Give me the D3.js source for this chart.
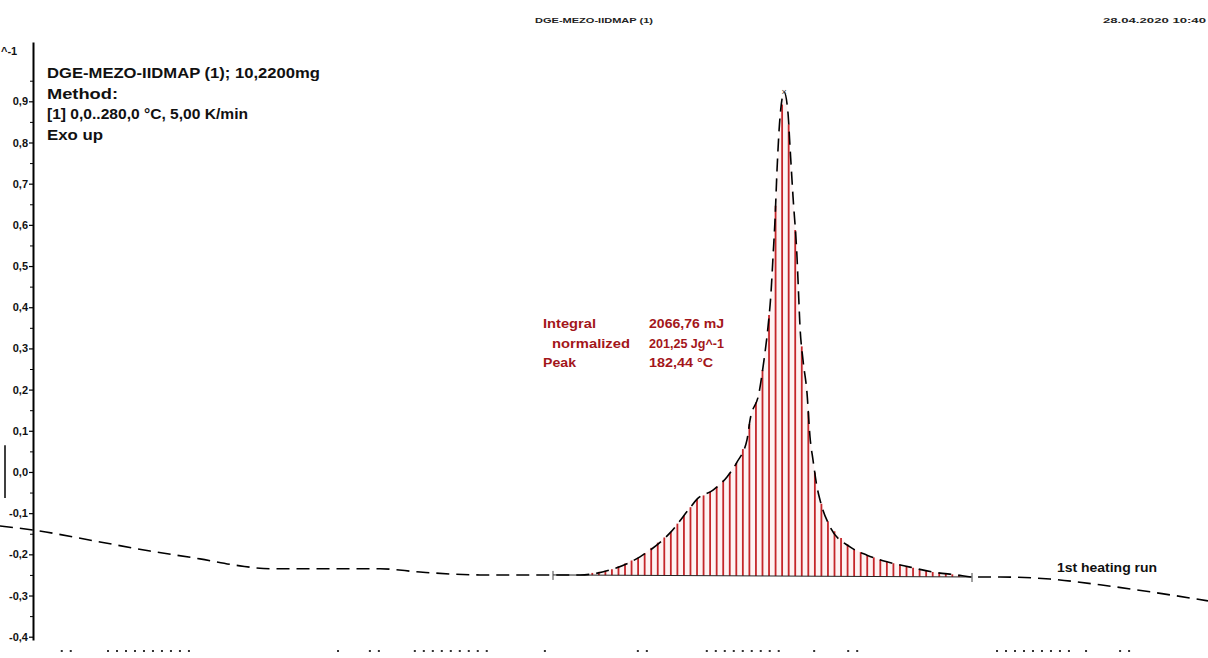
<!DOCTYPE html>
<html>
<head>
<meta charset="utf-8">
<script src="https://cdn.jsdelivr.net/npm/d3@7"></script>
<style>
  body { margin: 0; background: #fff; }
  svg { display: block; font-family: "Liberation Sans", Arial, sans-serif; font-weight: bold; }
</style>
</head>
<body>
<div class="chart"></div>
<script>
// DSC curve (temperature in °C, heat flow in W/g)
var temps = [2.75, 10.31, 25.66, 37.12, 48.58, 57.74, 64.62, 78.36, 89.82, 98.99,
  112.73, 129.46, 135.65, 142.52, 149.39, 156.27, 160.85, 162.46, 166.12, 169.33,
  171.62, 173.91, 174.6, 176.66, 177.81, 178.72, 179.41, 179.87, 180.33, 180.79,
  181.48, 182.44, 183.31, 183.77, 184.46, 185.37, 185.6, 186.06, 186.74, 187.66,
  188.35, 189.04, 189.95, 190.64, 192.93, 197.51, 201.41, 205.99, 211.26, 216.53,
  222.03, 225.47, 231.89, 243.34, 254.8, 266.25, 279.54];
var heatFlow = [-0.131, -0.141, -0.170, -0.192, -0.211, -0.228, -0.235, -0.235, -0.235, -0.243,
  -0.250, -0.250, -0.250, -0.238, -0.206, -0.148, -0.087, -0.066, -0.044, -0.012,
  0.024, 0.078, 0.126, 0.192, 0.272, 0.352, 0.435, 0.522, 0.612, 0.733,
  0.862, 0.922, 0.871, 0.789, 0.668, 0.522, 0.466, 0.352, 0.272, 0.192,
  0.085, 0.029, -0.036, -0.068, -0.133, -0.182, -0.202, -0.218, -0.231, -0.243,
  -0.250, -0.255, -0.255, -0.260, -0.274, -0.291, -0.313];

var yTicks = [0.9, 0.8, 0.7, 0.6, 0.5, 0.4, 0.3, 0.2, 0.1, 0.0, -0.1, -0.2, -0.3, -0.4];
var yMinor = [0.95, 0.85, 0.75, 0.65, 0.55, 0.45, 0.35, 0.25, 0.15, 0.05, -0.05, -0.15, -0.25, -0.35];
var yUnit = "^-1";

// integration limits and peak
var limits = [129.46, 225.47];
var hatchStep = 1.5;
var peakTemp = 182.44;

var headerTitle = "DGE-MEZO-IIDMAP (1)";
var headerDate = "28.04.2020 10:40";
var infoLines = ["DGE-MEZO-IIDMAP (1); 10,2200mg", "Method:", "[1] 0,0..280,0 °C, 5,00 K/min", "Exo up"];
var resultNames = ["Integral", "normalized", "Peak"];
var resultValues = ["2066,76 mJ", "201,25 Jg^-1", "182,44 °C"];
var curveName = "1st heating run";

// clipped remains of the temperature axis labels at the bottom edge: [start temp, count]
var stubGroups = [[16.9, 2], [27.5, 10], [80.2, 1], [87.5, 2], [97.8, 9], [127.6, 1],
  [148.9, 2], [164.7, 9], [189.3, 1], [197.1, 2], [231.2, 9], [251.6, 1], [259.4, 2]];

var svgWidth = 1208, svgHeight = 658;

var svg = d3.select(".chart").append("svg")
  .attr("width", svgWidth)
  .attr("height", svgHeight);

var x = d3.scaleLinear().domain([0, 280]).range([-12, 1210]);
var y = d3.scaleLinear().domain([-0.408, 1.044]).range([640, 42]);

var data = temps.map(function(t, i) { return { t: t, v: heatFlow[i] }; });

// linear lookup of the curve
var bis = d3.bisector(function(d) { return d.t; }).left;
function curveAt(t) {
  var i = bis(data, t);
  if (i <= 0) return data[0].v;
  if (i >= data.length) return data[data.length - 1].v;
  var a = data[i - 1], b = data[i];
  return a.v + (b.v - a.v) * (t - a.t) / (b.t - a.t);
}
var b0 = curveAt(limits[0]), b1 = curveAt(limits[1]);
function baseAt(t) { return b0 + (b1 - b0) * (t - limits[0]) / (limits[1] - limits[0]); }

// header
svg.append("text").attr("x", 535).attr("y", 23).attr("font-size", 8)
  .attr("fill", "#222").attr("textLength", 118).attr("lengthAdjust", "spacingAndGlyphs")
  .text(headerTitle);
svg.append("text").attr("x", 1103).attr("y", 23).attr("font-size", 8)
  .attr("fill", "#222").attr("textLength", 103).attr("lengthAdjust", "spacingAndGlyphs")
  .text(headerDate);

// y axis
var yAxis = d3.axisLeft(y).tickValues(yTicks).tickSize(4).tickSizeOuter(0)
  .tickFormat(function(d) { return d3.format(".1f")(d).replace(".", ",").replace("−", "-"); });
var gy = svg.append("g").attr("transform", "translate(33,0)").call(yAxis);
gy.select(".domain").attr("stroke", "#000").attr("stroke-width", 2);
gy.selectAll(".tick line").attr("stroke", "#000").attr("stroke-width", 1.2);
gy.selectAll(".tick text").attr("x", -5).attr("font-size", 11).attr("font-weight", "bold")
  .attr("font-family", "'Liberation Sans', Arial, sans-serif").attr("fill", "#111");
svg.append("g").attr("transform", "translate(33,0)")
  .call(d3.axisLeft(y).tickValues(yMinor).tickSize(3).tickSizeOuter(0).tickFormat(""))
  .call(function(g) { g.select(".domain").remove(); })
  .selectAll(".tick line").attr("stroke", "#000");
svg.append("text").attr("x", 1).attr("y", 55)
  .attr("font-size", 11).attr("fill", "#111").text(yUnit);
// scale marker left of the axis
svg.append("line").attr("x1", 5).attr("x2", 5).attr("y1", y(0.065)).attr("y2", y(-0.063))
  .attr("stroke", "#000").attr("stroke-width", 1.5);

// hatched integral area
var areaData = data.filter(function(d) { return d.t > limits[0] && d.t < limits[1]; });
areaData.unshift({ t: limits[0], v: b0 });
areaData.push({ t: limits[1], v: b1 });
svg.append("path").datum(areaData)
  .attr("fill", "#fdf3f3")
  .attr("d", d3.area().x(function(d) { return x(d.t); })
    .y0(function(d) { return y(baseAt(d.t)); })
    .y1(function(d) { return y(Math.max(d.v, baseAt(d.t))); }));

var hatchTemps = d3.range(limits[0] + hatchStep, limits[1], hatchStep);
svg.append("g").selectAll("line").data(hatchTemps.filter(function(t) { return curveAt(t) > baseAt(t) + 0.004; }))
  .enter().append("line")
  .attr("x1", function(t) { return x(t); }).attr("x2", function(t) { return x(t); })
  .attr("y1", function(t) { return y(baseAt(t)); })
  .attr("y2", function(t) { return y(curveAt(t)); })
  .attr("stroke", "#c4262a").attr("stroke-width", 1.8);

// baseline and limit markers
svg.append("line").attr("x1", x(limits[0])).attr("x2", x(limits[1]))
  .attr("y1", y(b0)).attr("y2", y(b1)).attr("stroke", "#222").attr("stroke-width", 1);
svg.append("g").selectAll("line").data(limits).enter().append("line")
  .attr("x1", function(t) { return x(t); }).attr("x2", function(t) { return x(t); })
  .attr("y1", function(t) { return y(curveAt(t)) - 4; })
  .attr("y2", function(t) { return y(curveAt(t)) + 5; })
  .attr("stroke", "#444").attr("stroke-width", 1);

// the measured curve
svg.append("path").datum(data)
  .attr("fill", "none").attr("stroke", "#000").attr("stroke-width", 1.6)
  .attr("stroke-dasharray", "13,7")
  .attr("d", d3.line().curve(d3.curveMonotoneX)
    .x(function(d) { return x(d.t); }).y(function(d) { return y(d.v); }));

// peak marker
svg.append("text").attr("x", x(peakTemp)).attr("y", y(curveAt(peakTemp)) + 3)
  .attr("text-anchor", "middle").attr("font-size", 9).attr("font-weight", "normal")
  .attr("fill", "#333").text("×");

// info block
svg.append("g").selectAll("text").data(infoLines).enter().append("text")
  .attr("x", 47).attr("y", function(d, i) { return 78 + i * 20.5; })
  .attr("font-size", 14).attr("fill", "#111")
  .attr("textLength", function(d, i) { return [273, 71, 201, 56][i]; })
  .attr("lengthAdjust", "spacingAndGlyphs")
  .text(function(d) { return d; });

// results
var res = svg.append("g").attr("fill", "#a3161a").attr("font-size", 12.5);
res.selectAll(".nm").data(resultNames).enter().append("text")
  .attr("x", function(d, i) { return i === 1 ? 552 : 543; })
  .attr("y", function(d, i) { return 328 + i * 19.5; })
  .attr("textLength", function(d, i) { return [53, 78, 33][i]; })
  .attr("lengthAdjust", "spacingAndGlyphs")
  .text(function(d) { return d; });
res.selectAll(".vl").data(resultValues).enter().append("text")
  .attr("x", 649)
  .attr("y", function(d, i) { return 328 + i * 19.5; })
  .attr("textLength", function(d, i) { return [75, 75, 64][i]; })
  .attr("lengthAdjust", "spacingAndGlyphs")
  .text(function(d) { return d; });

svg.append("text").attr("x", 1057).attr("y", 572).attr("font-size", 12.5)
  .attr("fill", "#111").attr("textLength", 100).attr("lengthAdjust", "spacingAndGlyphs")
  .text(curveName);

// bottom stubs
var stubs = [];
stubGroups.forEach(function(g) {
  for (var k = 0; k < g[1]; k++) stubs.push(g[0] + k * 2.06);
});
svg.append("g").selectAll("rect").data(stubs).enter().append("rect")
  .attr("x", function(t) { return x(t) - 1; }).attr("y", 650)
  .attr("width", 2).attr("height", 2).attr("fill", "#333");
</script>
</body>
</html>
